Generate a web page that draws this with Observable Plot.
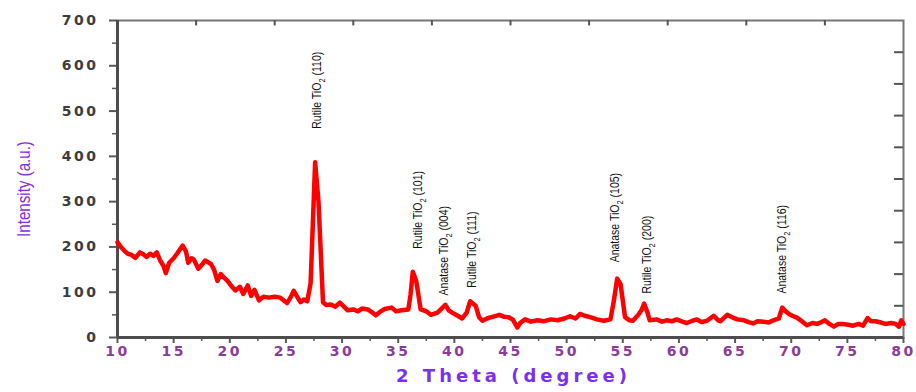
<!DOCTYPE html>
<html><head><meta charset="utf-8">
<script src="https://cdn.jsdelivr.net/npm/d3@7"></script>
<script src="https://cdn.jsdelivr.net/npm/@observablehq/plot@0.6"></script>
<style>
body{margin:0;background:#fff}
#chart svg{display:block;background:#fff}
g[aria-label="y-axis tick label"] text{letter-spacing:2.5px}
g[aria-label="x-axis tick label"] text{letter-spacing:2.5px}
</style></head><body><div id="chart"></div><script>
// 2θ (degree) readings
const twoTheta = [10.0,10.3,10.6,10.9,11.2,11.6,12.0,12.3,12.6,12.9,13.2,13.5,13.8,14.1,14.3,14.6,15.0,15.3,15.6,15.8,16.1,16.3,16.6,16.8,17.2,17.5,17.8,18.3,18.6,18.9,19.2,19.5,19.8,20.2,20.5,20.9,21.2,21.6,21.9,22.2,22.6,23.0,23.5,24.0,24.5,25.1,25.4,25.7,26.0,26.3,26.6,26.9,27.2,27.6,27.9,28.3,28.6,29.0,29.4,29.8,30.1,30.5,31.0,31.4,31.8,32.3,32.7,33.0,33.4,33.8,34.4,34.8,35.3,35.9,36.1,36.3,36.6,37.0,37.5,37.9,38.5,39.2,39.5,39.8,40.3,40.7,41.1,41.4,41.9,42.2,42.5,42.9,43.3,44.0,44.4,44.8,45.2,45.6,45.9,46.3,46.8,47.4,48.0,48.6,49.2,49.8,50.3,50.8,51.2,51.6,52.1,52.7,53.3,53.9,54.2,54.5,54.8,55.2,55.6,55.9,56.4,56.7,56.9,57.2,57.4,58.0,58.5,58.9,59.4,59.8,60.3,60.7,61.2,61.6,62.0,62.5,63.1,63.5,63.7,64.3,64.8,65.2,65.8,66.2,66.6,67.0,67.5,68.0,68.4,68.9,69.2,69.5,69.8,70.1,70.5,71.0,71.4,71.9,72.3,72.7,73.0,73.4,73.8,74.2,74.6,75.1,75.5,76.0,76.4,76.8,77.1,77.5,78.0,78.4,78.9,79.3,79.6,79.8,80.0];
// Intensity (a.u.) readings
const intensity = [210,200,192,185,183,176,188,184,178,185,180,188,170,158,142,165,175,185,196,203,190,165,175,172,152,160,170,163,150,125,140,132,125,112,104,112,96,115,92,105,82,90,88,90,88,76,88,103,90,78,84,80,120,387,300,78,72,73,68,77,70,60,62,58,64,62,55,49,57,63,66,58,60,62,95,145,125,62,58,50,55,72,60,55,48,42,55,80,70,45,37,42,45,50,46,45,40,22,33,40,35,38,36,40,38,42,47,42,52,48,45,40,37,40,80,130,118,45,38,37,51,62,75,55,38,40,35,38,36,40,35,32,37,40,34,37,48,38,36,50,44,40,38,34,31,36,35,33,38,42,66,58,52,48,44,35,27,32,30,34,38,30,24,30,30,28,26,30,26,43,36,36,33,30,32,30,24,38,30];

// peak annotations
const peakNames = ["Rutile TiO2 (110)","Rutile TiO2 (101)","Anatase TiO2 (004)","Rutile TiO2 (111)","Anatase TiO2 (105)","Rutile TiO2 (200)","Anatase TiO2 (116)"];
const peakTheta = [27.8,36.8,39.1,41.6,54.3,57.2,69.2];
const peakLabelBase = [461,196,93,110,166,97,97];

// ticks
const xTicks = [10,15,20,25,30,35,40,45,50,55,60,65,70,75,80];
const xMinorTicks = [12.5,17.5,22.5,27.5,32.5,37.5,42.5,47.5,52.5,57.5,62.5,67.5,72.5,77.5];
const yTicks = [0,100,200,300,400,500,600,700];
const yMinorTicks = [50,150,250,350,450,550,650];
const topTicks = [17,24,31,38,45,52,59,66,73];
const rightTicks = [70,140,210,280,350,420,490,560,630];

const xTitle = "2 Theta (degree)";
const yTitle = "Intensity (a.u.)";

const series = twoTheta.map((t, i) => ({theta: t, intensity: intensity[i]}));
const peaks = peakNames.map((n, i) => ({name: n, theta: peakTheta[i], base: peakLabelBase[i]}));

const axisColor = "#5a5a5a";
const narrow = "'Liberation Sans Narrow','Liberation Sans',Arial,sans-serif";
const wide = "'DejaVu Sans',Verdana,sans-serif";

const chart = Plot.plot({
  width: 916,
  height: 392,
  marginLeft: 117,
  marginRight: 13,
  marginTop: 20,
  marginBottom: 55,
  x: {domain: [10, 80]},
  y: {domain: [0, 700]},
  marks: [
    Plot.frame({stroke: "#777", strokeWidth: 2}),
    // bottom axis
    Plot.axisX(xTicks, {anchor: "bottom", tickSize: 6, tickPadding: 3, stroke: axisColor, strokeWidth: 2,
      fill: "#8b3a9e", fontFamily: wide, fontWeight: "bold", fontSize: 14, label: null, tickFormat: d => d}),
    Plot.axisX(xMinorTicks, {anchor: "bottom", tickSize: 4, text: null, stroke: axisColor, strokeWidth: 1.5, label: null}),
    // top ticks (inward)
    Plot.ruleX(topTicks, {x: d => d, y1: 700, y2: 688, stroke: "#555", strokeWidth: 2}),
    // left axis
    Plot.axisY(yTicks, {anchor: "left", tickSize: 8, tickPadding: 11, stroke: axisColor, strokeWidth: 2,
      fill: "#3c3c3c", fontFamily: wide, fontWeight: "bold", fontSize: 14, label: null, tickFormat: d => d}),
    Plot.axisY(yMinorTicks, {anchor: "left", tickSize: 5, text: null, stroke: axisColor, strokeWidth: 1.5, label: null}),
    // right ticks (inward)
    Plot.ruleY(rightTicks, {y: d => d, x1: 80, x2: 79.2, stroke: "#555", strokeWidth: 2}),
    Plot.ruleX([10], {stroke: "#4d4d4d", strokeWidth: 3}),
    Plot.ruleY([0], {stroke: "#4d4d4d", strokeWidth: 3}),
    // data
    Plot.line(series, {x: "theta", y: "intensity", stroke: "#ff0000", strokeWidth: 4.5, strokeLinejoin: "round", curve: "linear"}),
    // peak labels
    Plot.text(peaks, {x: "theta", y: "base", text: "name", rotate: -90, textAnchor: "start",
      fontSize: 12.5, fontFamily: narrow, fill: "#111"}),
    // axis titles
    Plot.text([xTitle], {frameAnchor: "bottom", dy: 44, dx: 3, text: d => d, fontFamily: wide, fontWeight: "bold",
      fontSize: 18, fill: "#7b2ff0"}),
    Plot.text([yTitle], {frameAnchor: "left", textAnchor: "middle", dx: -93, dy: 10, rotate: -90, text: d => d, fontFamily: narrow,
      fontSize: 18, fill: "#8a2be2"})
  ]
});

// subscripts in peak labels
const peakTextNodes = [];
d3.select(chart).selectAll("text").each(function() {
  const t = this.textContent;
  const m = t.match(/^(.*TiO)2( \(\d+\))$/);
  if (!m || this.querySelector("tspan")) return;
  const el = d3.select(this);
  el.text(null);
  el.append("tspan").text(m[1]);
  el.append("tspan").attr("dy", 4).attr("font-size", 9).text("2");
  el.append("tspan").attr("dy", -4).text(m[2]);
  peakTextNodes.push(this);
});
let yTitleNode = null;
d3.select(chart).selectAll("text").each(function(){
  if (this.textContent === xTitle) d3.select(this).style("letter-spacing", "4px");
  if (this.textContent === yTitle) yTitleNode = this;
});

document.getElementById("chart").appendChild(chart);

// condense narrow texts (emulating a narrow face)
peakTextNodes.forEach(n => {
  const len = n.getComputedTextLength();
  n.setAttribute("textLength", (len * 0.84).toFixed(1));
  n.setAttribute("lengthAdjust", "spacingAndGlyphs");
});
if (yTitleNode) {
  const len = yTitleNode.getComputedTextLength();
  yTitleNode.setAttribute("textLength", (len * 0.84).toFixed(1));
  yTitleNode.setAttribute("lengthAdjust", "spacingAndGlyphs");
}
</script></body></html>
